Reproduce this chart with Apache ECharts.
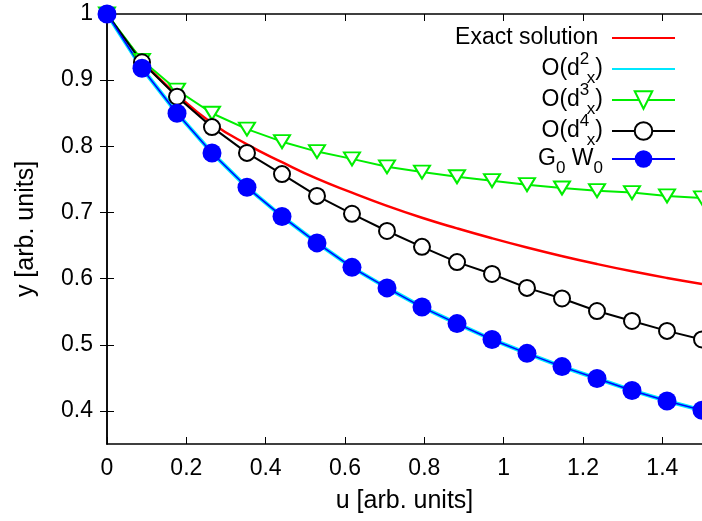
<!DOCTYPE html>
<html>
<head>
<meta charset="utf-8">
<script src="https://cdn.jsdelivr.net/npm/echarts@6/dist/echarts.min.js"></script>
<style>
html, body { margin: 0; padding: 0; background: #fff; }
#main { width: 702px; height: 521px; }
</style>
</head>
<body>
<div id="main"></div>
<script>
// x grid: 18 points from 0 to 1.5
var uValues = [0, 0.0882, 0.1765, 0.2647, 0.3529, 0.4412, 0.5294, 0.6176, 0.7059,
    0.7941, 0.8824, 0.9706, 1.0588, 1.1471, 1.2353, 1.3235, 1.4118, 1.5];
var exactValues = [1.0, 0.930, 0.878, 0.835, 0.803, 0.776, 0.751, 0.730, 0.710,
    0.692, 0.676, 0.661, 0.647, 0.634, 0.622, 0.611, 0.601, 0.592];
var d2Values = [1.0, 0.918, 0.850, 0.790, 0.738, 0.694, 0.654, 0.617, 0.586,
    0.557, 0.532, 0.508, 0.487, 0.467, 0.449, 0.431, 0.415, 0.401];
var d3Values = [1.0, 0.930, 0.885, 0.850, 0.826, 0.807, 0.792, 0.781, 0.769,
    0.761, 0.754, 0.748, 0.742, 0.737, 0.733, 0.730, 0.725, 0.722];
var d4Values = [1.0, 0.927, 0.875, 0.829, 0.790, 0.758, 0.725, 0.698, 0.672,
    0.648, 0.625, 0.607, 0.586, 0.570, 0.551, 0.536, 0.521, 0.508];
var g0w0Values = [1.0, 0.918, 0.850, 0.790, 0.738, 0.694, 0.654, 0.617, 0.586,
    0.557, 0.532, 0.508, 0.487, 0.467, 0.449, 0.431, 0.415, 0.401];
var xTicks = [0, 0.2, 0.4, 0.6, 0.8, 1, 1.2, 1.4];
var yTicks = [0.4, 0.5, 0.6, 0.7, 0.8, 0.9, 1];

function pairs(ys) {
    return uValues.map(function (u, i) { return [u, ys[i]]; });
}

var FONT = '"Liberation Sans", Arial, sans-serif';
var chart = echarts.init(document.getElementById('main'));

// legend labels with sub/superscripts (gnuplot enhanced text look)
var legendText = {
    'Exact solution': '{t|Exact solution}{sub| }{g| }',
    'O(d2x)': '{t|O(d}{sup|2}{sub|x}{t|)}{g| }',
    'O(d3x)': '{t|O(d}{sup|3}{sub|x}{t|)}{g| }',
    'O(d4x)': '{t|O(d}{sup|4}{sub|x}{t|)}{g| }',
    'G0W0': '{t|G}{sub|0}{t| W}{sub|0}{g| }'
};

var option = {
    animation: false,
    backgroundColor: '#fff',
    grid: { left: 107, top: 14, right: 0, bottom: 77 },
    legend: {
        orient: 'vertical',
        right: 21,
        top: 18,
        align: 'right',
        itemWidth: 63,
        itemHeight: 22,
        itemGap: -5,
        data: [
            { name: 'Exact solution', itemStyle: { opacity: 0 } },
            { name: 'O(d2x)', itemStyle: { opacity: 0 } },
            { name: 'O(d3x)' },
            { name: 'O(d4x)' },
            { name: 'G0W0' }
        ],
        formatter: function (name) { return legendText[name]; },
        textStyle: {
            color: '#000',
            rich: {
                t: { fontSize: 23, fontFamily: FONT, color: '#000', align: 'left', lineHeight: 36 },
                sup: { fontSize: 17, fontFamily: FONT, color: '#000', align: 'left', width: 7, verticalAlign: 'top', lineHeight: 20, padding: [0, 0, 16, 0] },
                sub: { fontSize: 17, fontFamily: FONT, color: '#000', align: 'left', verticalAlign: 'bottom', lineHeight: 20, padding: [16, 0, 0, 0] },
                g: { fontSize: 10, width: 4, align: 'left', lineHeight: 36 }
            }
        }
    },
    xAxis: [{
        type: 'value',
        min: 0,
        max: 1.5,
        name: 'u [arb. units]',
        nameLocation: 'middle',
        nameGap: 45,
        nameTextStyle: { fontSize: 25, fontFamily: FONT, color: '#000' },
        axisLine: { lineStyle: { color: '#000', width: 1.5 } },
        axisTick: { inside: true, length: 7, customValues: xTicks, lineStyle: { color: '#000', width: 1 } },
        axisLabel: { customValues: xTicks, fontSize: 23, fontFamily: FONT, color: '#000', margin: 13 },
        splitLine: { show: false }
    }, {
        type: 'value',
        position: 'top',
        min: 0,
        max: 1.5,
        axisLine: { lineStyle: { color: '#000', width: 1.5 } },
        axisTick: { inside: true, length: 7, customValues: xTicks, lineStyle: { color: '#000', width: 1 } },
        axisLabel: { show: false },
        splitLine: { show: false }
    }],
    yAxis: [{
        type: 'value',
        min: 0.35,
        max: 1,
        name: 'y [arb. units]',
        nameLocation: 'middle',
        nameGap: 68,
        nameTextStyle: { fontSize: 25, fontFamily: FONT, color: '#000' },
        axisLine: { lineStyle: { color: '#000', width: 1.5 } },
        axisTick: { inside: true, length: 7, customValues: yTicks, lineStyle: { color: '#000', width: 1 } },
        axisLabel: { customValues: yTicks, fontSize: 23, fontFamily: FONT, color: '#000', margin: 14 },
        splitLine: { show: false }
    }, {
        type: 'value',
        position: 'right',
        min: 0.35,
        max: 1,
        axisLine: { lineStyle: { color: '#000', width: 1.5 } },
        axisTick: { inside: true, length: 7, customValues: yTicks, lineStyle: { color: '#000', width: 1 } },
        axisLabel: { show: false },
        splitLine: { show: false }
    }],
    series: [
        {
            name: 'Exact solution',
            type: 'line',
            smooth: true,
            symbol: 'none',
            data: pairs(exactValues),
            color: '#ff0000',
            lineStyle: { color: '#ff0000', width: 2.5 }
        },
        {
            name: 'O(d2x)',
            type: 'line',
            symbol: 'none',
            data: pairs(d2Values),
            color: '#00e8ff',
            lineStyle: { color: '#00e8ff', width: 4 }
        },
        {
            name: 'O(d3x)',
            type: 'line',
            symbol: 'emptyTriangle',
            symbolRotate: 180,
            symbolSize: [16, 13],
            data: pairs(d3Values),
            color: '#00ee00',
            itemStyle: { color: '#00ee00', borderColor: '#00ee00', borderWidth: 2 },
            lineStyle: { color: '#00ee00', width: 2 }
        },
        {
            name: 'O(d4x)',
            type: 'line',
            symbol: 'emptyCircle',
            symbolSize: 16,
            data: pairs(d4Values),
            color: '#000',
            itemStyle: { color: '#000', borderColor: '#000', borderWidth: 2 },
            lineStyle: { color: '#000', width: 2 }
        },
        {
            name: 'G0W0',
            type: 'line',
            symbol: 'circle',
            symbolSize: 19,
            data: pairs(g0w0Values),
            color: '#0000ff',
            itemStyle: { color: '#0000ff' },
            lineStyle: { color: '#0000ff', width: 1.5 }
        }
    ]
};

chart.setOption(option);
</script>
</body>
</html>
